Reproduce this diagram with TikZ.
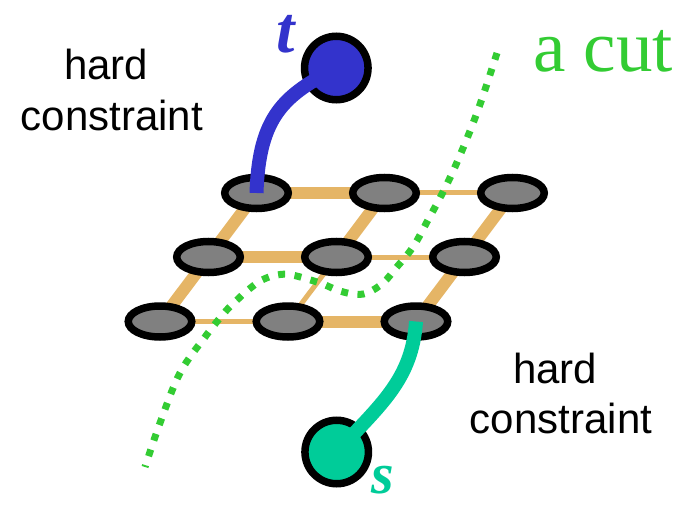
\documentclass[tikz,border=0pt]{standalone}
\usepackage{fontspec}
\setmainfont{Liberation Serif}
\setsansfont{Liberation Sans}
\usetikzlibrary{shapes.geometric}
\pgfdeclarelayer{background}
\pgfsetlayers{background,main}
\definecolor{edgeor}{RGB}{229,181,102}
\definecolor{tblue}{RGB}{51,51,204}
\definecolor{sgreen}{RGB}{0,204,153}
\definecolor{cutgreen}{RGB}{51,204,51}
\definecolor{nodegray}{RGB}{128,128,128}
\begin{document}
\begin{tikzpicture}[x=1pt,y=-1pt,
  pixel/.style={draw=black, line width=7.5pt, fill=nodegray, ellipse,
    minimum width=63.5pt, minimum height=31pt, inner sep=0pt},
  terminal/.style={draw=black, line width=7.5pt, circle, minimum size=63.5pt, inner sep=0pt},
  strong/.style={draw=edgeor, line width=12pt},
  weak/.style={draw=edgeor, line width=5pt},
  tlink/.style={draw=tblue, line width=14pt},
  slink/.style={draw=sgreen, line width=14pt},
  cutline/.style={draw=cutgreen, line width=7pt, dash pattern=on 7pt off 9.5pt},
  note/.style={font=\sffamily\fontsize{42}{51}\selectfont, align=center, anchor=north, inner sep=0pt},
  termlabel/.style={font=\bfseries\itshape\fontsize{66}{70}\selectfont, anchor=base west, inner sep=0pt}
]
\useasboundingbox (0,0) rectangle (685,505);

% grid of pixels
\node[pixel] (n11) at (256.5,193) {};
\node[pixel] (n12) at (384.5,193) {};
\node[pixel] (n13) at (512.5,193) {};
\node[pixel] (n21) at (208.5,257) {};
\node[pixel] (n22) at (336.5,257) {};
\node[pixel] (n23) at (464.5,257) {};
\node[pixel] (n31) at (160,321.5) {};
\node[pixel] (n32) at (288,321.5) {};
\node[pixel] (n33) at (416,321.5) {};

% terminals
\node[terminal, fill=tblue] (t) at (336.3,68) {};
\node[terminal, fill=sgreen] (s) at (336.7,452) {};

% n-links
\begin{pgfonlayer}{background}
  \draw[strong] (n11.center) -- (n12.center);
  \draw[weak]   (n12.center) -- (n13.center);
  \draw[strong] (n21.center) -- (n22.center);
  \draw[weak]   (n22.center) -- (n23.center);
  \draw[weak]   (n31.center) -- (n32.center);
  \draw[strong] (n32.center) -- (n33.center);
  \draw[strong] (n11.center) -- (n21.center);
  \draw[strong] (n21.center) -- (n31.center);
  \draw[strong] (n12.center) -- (n22.center);
  \draw[weak]   (n22.center) -- (n32.center);
  \draw[strong] (n13.center) -- (n23.center);
  \draw[strong] (n23.center) -- (n33.center);
\end{pgfonlayer}

% t-links
\draw[tlink] (n11.center) .. controls (259,115) and (285,95) .. (t.center);
\draw[slink] (n33.center) .. controls (412,380) and (380,405) .. (s.center);

% the cut
\draw[cutline] plot[smooth, tension=0.6] coordinates {
  (497,53) (478,110) (458,160) (443,192) (428,220) (413,247) (396,268)
  (383,283) (367,293) (353,294) (337,290) (320,283) (292,275) (277,275)
  (262,280) (248,290) (237,300) (225,312) (205,337) (180,373) (160,423) (145,467)};

% labels
\node[note] (hc1) at (112,49) {hard\hspace*{0.28em}\\constraint};
\node[note, font=\sffamily\fontsize{42}{50}\selectfont] (hc2) at (561,353) {hard\hspace*{0.28em}\\constraint};
\node[font=\fontsize{73}{80}\selectfont, text=cutgreen, anchor=base west, inner sep=0pt] (cutlabel) at (533,72) {a cut};
\node[termlabel, text=tblue] (tlabel) at (276,53) {t};
\node[termlabel, text=sgreen, font=\bfseries\itshape\fontsize{58}{62}\selectfont] (slabel) at (371,493) {s};
\end{tikzpicture}
\end{document}
